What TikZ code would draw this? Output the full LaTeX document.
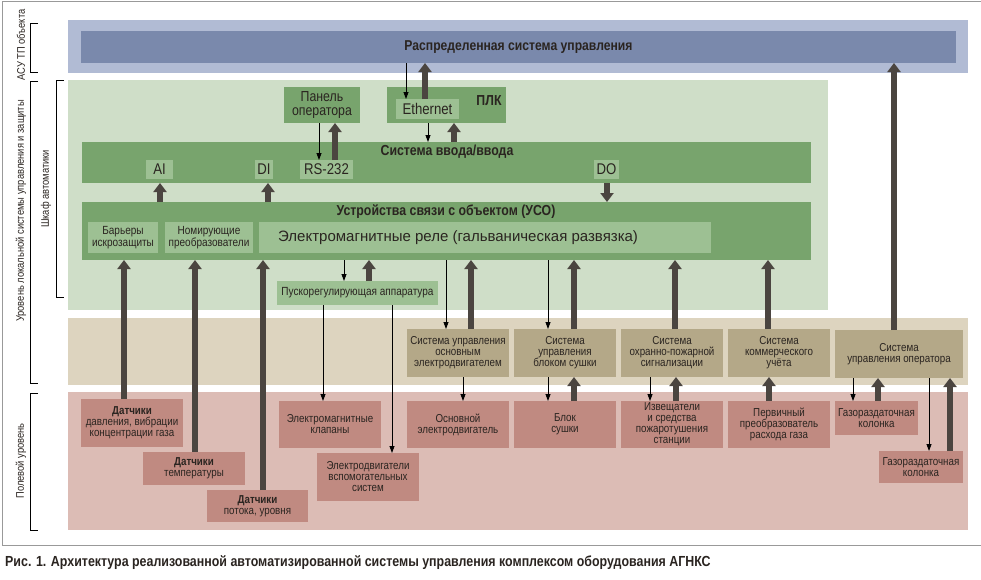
\documentclass[tikz,border=0pt]{standalone}
\usepackage{fontspec}
\setmainfont[FakeStretch=0.85]{Liberation Sans}
\newfontfamily\widefont{Liberation Sans}
\usetikzlibrary{arrows.meta,fit}
\definecolor{blueO}{HTML}{B1BBD4}
\definecolor{blueI}{HTML}{7A89AC}
\definecolor{grnB}{HTML}{CFDEC8}
\definecolor{grnD}{HTML}{78A46D}
\definecolor{grnL}{HTML}{9DC093}
\definecolor{begB}{HTML}{DDD4BF}
\definecolor{begD}{HTML}{B4A888}
\definecolor{pnkB}{HTML}{DCBCB5}
\definecolor{pnkD}{HTML}{C08A81}
\definecolor{arrC}{HTML}{4B4540}
\definecolor{txtC}{HTML}{2A2420}
\tikzset{
  area/.style={inner sep=0pt, outer sep=0pt, draw=none},
  gbox/.style={area, fill=grnD},
  gsub/.style={area, fill=grnL},
  bbox/.style={area, fill=begD},
  pbox/.style={area, fill=pnkD},
  btxt/.style={inner sep=0pt, align=center, text=txtC, font=\fontsize{11.5}{11}\selectfont},
  bigtxt/.style={btxt, font=\fontsize{15.5}{15.5}\selectfont},
  midtxt/.style={btxt, font=\fontsize{14.5}{14}\selectfont},
  smalltxt/.style={btxt, font=\fontsize{11.8}{12}\selectfont},
  title/.style={text=txtC, inner sep=0pt, font=\fontsize{14.5}{14.5}\selectfont\bfseries},
  sidelab/.style={rotate=90, text=txtC, inner sep=0pt, font=\fontsize{11}{11}\selectfont},
  brk/.style={draw=black, line width=0.8pt},
  tarr/.style={draw=arrC, line width=6pt, -{Triangle[width=13pt,length=9pt]}},
  narr/.style={draw=black, line width=0.8pt, -{Triangle[width=5pt,length=7pt]}},
}
% \rb{box style}{text style}{name}{x1}{y1}{x2}{y2}{text}
\newcommand{\rb}[8]{\node[#1, fit={(#4,#5) (#6,#7)}] (#3) {};
  \node[#2] (#3t) at (#3.center) {#8};}
\begin{document}
\begin{tikzpicture}[x=1pt,y=-1pt]
\useasboundingbox (0,0) rectangle (981,579);
\draw[gray!80, line width=0.9pt] (2.5,1) rectangle (985,545);
% bands
\node[area, fill=blueO, fit={(68,20) (968,73)}] (bandA) {};
\node[area, fill=grnB, fit={(68,80) (828,310)}] (bandG) {};
\node[area, fill=begB, fit={(68,318) (968,385)}] (bandB) {};
\node[area, fill=pnkB, fit={(68,392) (968,530)}] (bandP) {};
\rb{area, fill=blueI}{title, font=\fontsize{14.3}{14.3}\selectfont\bfseries}{rsu}{81}{31}{956}{63}{Распределенная система управления}
% green area
\rb{gbox}{midtxt}{panel}{284}{87}{360}{123}{Панель\\оператора}
\node[gbox, fit={(387,87) (506,123)}] (plc) {};
\node[title] (plct) at (489,101) {ПЛК};
\rb{gsub}{bigtxt}{eth}{396}{99}{459}{119}{Ethernet}
\node[gbox, fit={(82,142) (811,183)}] (io) {};
\node[title] (iot) at (447,152) {Система ввода/ввода};
\rb{gsub}{bigtxt}{ai}{146}{160}{173}{179}{AI}
\rb{gsub}{bigtxt}{di}{255}{160}{273}{179}{DI}
\rb{gsub}{bigtxt}{rs}{300}{160}{353}{179}{RS-232}
\rb{gsub}{bigtxt}{do}{594}{160}{619}{179}{DO}
\node[gbox, fit={(82,202) (811,260)}] (uso) {};
\node[title] (usot) at (446,212) {Устройства связи с объектом (УСО)};
\rb{gsub}{smalltxt}{bar}{88}{222}{158}{253}{Барьеры\\искрозащиты}
\rb{gsub}{smalltxt}{nom}{165}{222}{253}{253}{Номирующие\\преобразователи}
\node[gsub, fit={(259,222) (711,253)}] (rel) {};
\node[btxt, font=\fontsize{15}{15}\widefont, anchor=west] (relt) at (rel.west -| 278,0) {Электромагнитные реле (гальваническая развязка)};
\rb{gsub}{smalltxt}{pra}{277}{281}{438}{305}{Пускорегулирующая аппаратура}
% beige row
\rb{bbox}{btxt}{su1}{407}{329}{509}{377}{Система управления\\основным\\электродвигателем}
\rb{bbox}{btxt}{su2}{514}{329}{616}{377}{Система\\управления\\блоком сушки}
\rb{bbox}{btxt}{su3}{621}{329}{723}{377}{Система\\охранно-пожарной\\сигнализации}
\rb{bbox}{btxt}{su4}{728}{329}{830}{377}{Система\\коммерческого\\учёта}
\rb{bbox}{btxt}{su5}{835}{330}{963}{378}{Система\\управления оператора}
% pink row
\rb{pbox}{btxt}{s1}{81}{399}{183}{447}{\textbf{Датчики}\\давления, вибрации\\концентрации газа}
\rb{pbox}{btxt}{s2}{143}{452}{245}{485}{\textbf{Датчики}\\температуры}
\rb{pbox}{btxt}{s3}{207}{490}{308}{522}{\textbf{Датчики}\\потока, уровня}
\rb{pbox}{btxt}{emk}{279}{401}{381}{448}{Электромагнитные\\клапаны}
\rb{pbox}{btxt}{edv}{317}{453}{419}{501}{Электродвигатели\\вспомогательных\\систем}
\rb{pbox}{btxt}{oed}{407}{401}{509}{448}{Основной\\электродвигатель}
\rb{pbox}{btxt}{bs}{514}{401}{616}{448}{Блок\\сушки}
\rb{pbox}{btxt}{izv}{621}{401}{723}{448}{Извещатели\\и средства\\пожаротушения\\станции}
\rb{pbox}{btxt}{ppr}{728}{401}{830}{448}{Первичный\\преобразователь\\расхода газа}
\rb{pbox}{btxt}{gk1}{835}{401}{918}{435}{Газораздаточная\\колонка}
\rb{pbox}{btxt}{gk2}{879}{451}{963}{483}{Газораздаточная\\колонка}
% arrows top
\draw[narr] (rsu.south -| 406,0) -- (eth.north -| 406,0);
\draw[tarr] (eth.north -| 425,0) -- (rsu.south -| 425,0);
\draw[narr] (panel.south -| 319,0) -- (rs.north -| 319,0);
\draw[tarr] (rs.north -| 335,0) -- (panel.south -| 335,0);
\draw[narr] (plc.south -| 428,0) -- (io.north -| 428,0);
\draw[tarr] (io.north -| 454,0) -- (plc.south -| 454,0);
\draw[tarr] (uso.north -| 160,0) -- (io.south -| 160,0);
\draw[tarr] (uso.north -| 268,0) -- (io.south -| 268,0);
\draw[tarr] (io.south -| 607,0) -- (uso.north -| 607,0);
\draw[tarr] (s1.north -| 124,0) -- (uso.south -| 124,0);
\draw[tarr] (s2.north -| 195,0) -- (uso.south -| 195,0);
\draw[tarr] (s3.north -| 263,0) -- (uso.south -| 263,0);
\draw[narr] (uso.south -| 344,0) -- (pra.north -| 344,0);
\draw[tarr] (pra.north -| 369,0) -- (uso.south -| 369,0);
\draw[narr] (pra.south -| 323,0) -- (emk.north -| 323,0);
\draw[narr] (pra.south -| 392,0) -- (edv.north -| 392,0);
\draw[narr] (uso.south -| 446,0) -- (su1.north -| 446,0);
\draw[tarr] (su1.north -| 471,0) -- (uso.south -| 471,0);
\draw[narr] (uso.south -| 548,0) -- (su2.north -| 548,0);
\draw[tarr] (su2.north -| 574,0) -- (uso.south -| 574,0);
\draw[tarr] (su3.north -| 675,0) -- (uso.south -| 675,0);
\draw[tarr] (su4.north -| 768,0) -- (uso.south -| 768,0);
\draw[tarr] (su5.north -| 894,0) -- (rsu.south -| 894,0);
% arrows lower
\draw[narr] (su1.south -| 463,0) -- (oed.north -| 463,0);
\draw[narr] (su2.south -| 548,0) -- (bs.north -| 548,0);
\draw[tarr] (bs.north -| 574,0) -- (su2.south -| 574,0);
\draw[narr] (su3.south -| 650,0) -- (izv.north -| 650,0);
\draw[tarr] (izv.north -| 676,0) -- (su3.south -| 676,0);
\draw[tarr] (ppr.north -| 769,0) -- (su4.south -| 769,0);
\draw[narr] (su5.south -| 853,0) -- (gk1.north -| 853,0);
\draw[tarr] (gk1.north -| 878,0) -- (su5.south -| 878,0);
\draw[narr] (su5.south -| 929,0) -- (gk2.north -| 929,0);
\draw[tarr] (gk2.north -| 950,0) -- (su5.south -| 950,0);
% side labels
\node[sidelab] (lab1) at (21,45) {АСУ ТП объекта};
\draw[brk] (38,23) -- (30,23) -- (30,72) -- (38,72);
\node[sidelab] (lab2) at (21,211) {Уровень локальной системы управления и защиты};
\draw[brk] (38,81) -- (30,81) -- (30,383) -- (38,383);
\node[sidelab] (lab3) at (46,189) {Шкаф автоматики};
\draw[brk] (64,80) -- (56,80) -- (56,297) -- (64,297);
\node[sidelab] (lab4) at (21,461) {Полевой уровень};
\draw[brk] (38,393) -- (30,393) -- (30,530) -- (38,530);
% caption
\node[anchor=west, inner sep=0pt, text=txtC, font=\fontsize{14.6}{14.6}\selectfont\bfseries] (cap) at (5,563) {Рис. 1. Архитектура реализованной автоматизированной системы управления комплексом оборудования АГНКС};
\end{tikzpicture}
\end{document}
